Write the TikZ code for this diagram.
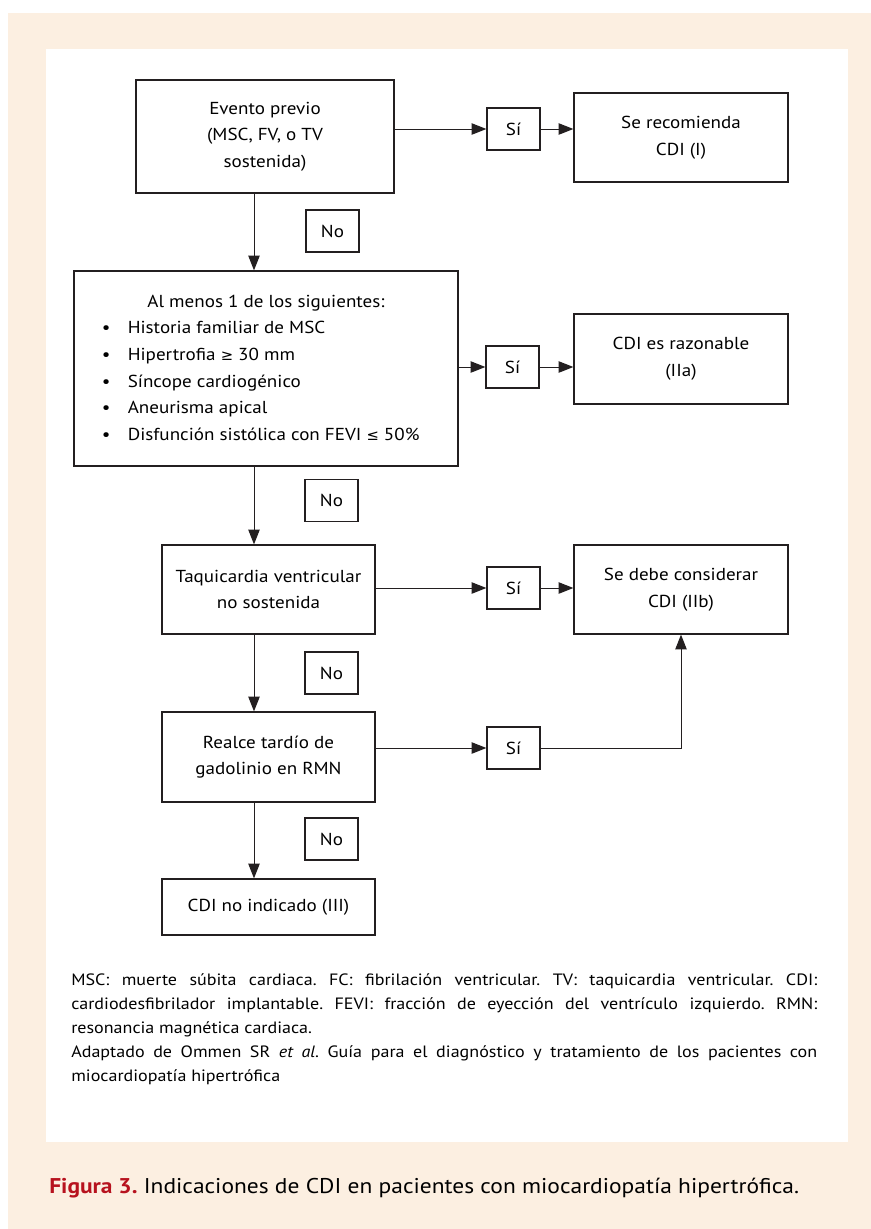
\documentclass[tikz,border=0pt]{standalone}
\usepackage{fontspec}
\setmainfont{PT Sans}[FakeStretch=1.1]
\newfontfamily\simbolos{DejaVu Sans}[Scale=0.85]
\usetikzlibrary{arrows.meta, positioning}
\definecolor{crema}{RGB}{252,239,225}
\definecolor{rojo}{RGB}{183,18,30}
\definecolor{trazo}{RGB}{35,31,32}
\frenchspacing
\tikzstyle{every picture} = [x=0.75pt, y=-0.75pt]
\tikzstyle{caja} = [draw=trazo, line width=0.95pt, align=center, inner sep=0pt, font=\fontsize{13}{20}\selectfont]
\tikzstyle{etiqueta} = [caja, minimum width=39.75pt, minimum height=31.5pt]
\tikzstyle{flecha} = [-{Triangle[length=11pt, width=8.5pt]}, draw=trazo, line width=0.75pt]

\begin{document}
\begin{tikzpicture}
            \useasboundingbox (0,0) rectangle (871,1229);
            \fill[crema] (8,13) rectangle (871,1229);
            \fill[white] (46,49) rectangle (848,1142);
            \coordinate (eje) at (254,0);

            \node (caja 1) at (265,136.5) [caja, minimum width=193.5pt, minimum height=84.75pt] {Evento previo\\(MSC, FV, o TV\\sostenida)};
            \node (si 1) at (513.5,129) [etiqueta] {Sí};
            \node (fin 1) at (681,137.5) [caja, minimum width=160.5pt, minimum height=66.75pt] {Se recomienda\\CDI (I)};
            \node (no 1) at (332.5,231) [etiqueta] {No};

            \node (caja 2) at (266,368.5) [caja, minimum width=288pt, minimum height=146.25pt] {%
                \begin{tabular}{@{}c@{\hspace{13pt}}l@{\hspace{8pt}}}
                \multicolumn{2}{c}{Al menos 1 de los siguientes:}\\
                \textbullet & Historia familiar de MSC\\
                \textbullet & Hipertrofia {\simbolos ≥} 30 mm\\
                \textbullet & Síncope cardiogénico\\
                \textbullet & Aneurisma apical\\
                \textbullet & Disfunción sistólica con FEVI {\simbolos ≤} 50\%
                \end{tabular}};
            \node (si 2) at (512.5,367) [etiqueta] {Sí};
            \node (fin 2) at (681,359) [caja, minimum width=160.5pt, minimum height=67.5pt] {CDI es razonable\\(IIa)};
            \node (no 2) at (331.5,500.5) [etiqueta] {No};

            \node (caja 3) at (268.5,589.5) [caja, minimum width=159.75pt, minimum height=66.75pt] {Taquicardia ventricular\\no sostenida};
            \node (si 3) at (513.5,588) [etiqueta] {Sí};
            \node (fin 3) at (681,589.5) [caja, minimum width=160.5pt, minimum height=66.75pt] {Se debe considerar\\CDI (IIb)};
            \node (no 3) at (331.5,673) [etiqueta] {No};

            \node (caja 4) at (268.5,757) [caja, minimum width=159.75pt, minimum height=67.5pt] {Realce tardío de\\gadolinio en RMN};
            \node (si 4) at (513.5,748) [etiqueta] {Sí};
            \node (no 4) at (331.5,839) [etiqueta] {No};
            \node (fin 4) at (268.5,907) [caja, minimum width=159.75pt, minimum height=42pt] {CDI no indicado (III)};

            \path (caja 1.east |- si 1) edge[flecha] (si 1.west)
                  (si 1.east) edge[flecha] (si 1 -| fin 1.west)
                  (caja 2.east |- si 2) edge[flecha] (si 2.west)
                  (si 2.east) edge[flecha] (si 2 -| fin 2.west)
                  (caja 3.east |- si 3) edge[flecha] (si 3.west)
                  (si 3.east) edge[flecha] (si 3 -| fin 3.west)
                  (caja 4.east |- si 4) edge[flecha] (si 4.west)
                  (caja 1.south -| eje) edge[flecha] (caja 2.north -| eje)
                  (caja 2.south -| eje) edge[flecha] (caja 3.north -| eje)
                  (caja 3.south -| eje) edge[flecha] (caja 4.north -| eje)
                  (caja 4.south -| eje) edge[flecha] (fin 4.north -| eje);
            \draw[flecha] (si 4.east) -| (fin 3.south);

            \node (notas) at (71,973) [anchor=north west, inner sep=0pt, text width=559.5pt, align=justify, font=\fontsize{12.3}{18}\selectfont] {MSC: muerte súbita cardiaca. FC: fibrilación ventricular. TV: taquicardia ventricular. CDI:\linebreak cardiodesfibrilador implantable. FEVI: fracción de eyección del ventrículo izquierdo. RMN:\linebreak resonancia magnética cardiaca.\\
                Adaptado de Ommen SR \textit{et al}. Guía para el diagnóstico y tratamiento de los pacientes con\linebreak miocardiopatía hipertrófica};
            \node (leyenda) at (49,1188) [anchor=west, inner sep=0pt, font=\fontsize{16}{20}\selectfont] {\textcolor{rojo}{\textbf{Figura 3.}} Indicaciones de CDI en pacientes con miocardiopatía hipertrófica.};
        \end{tikzpicture}
\end{document}
